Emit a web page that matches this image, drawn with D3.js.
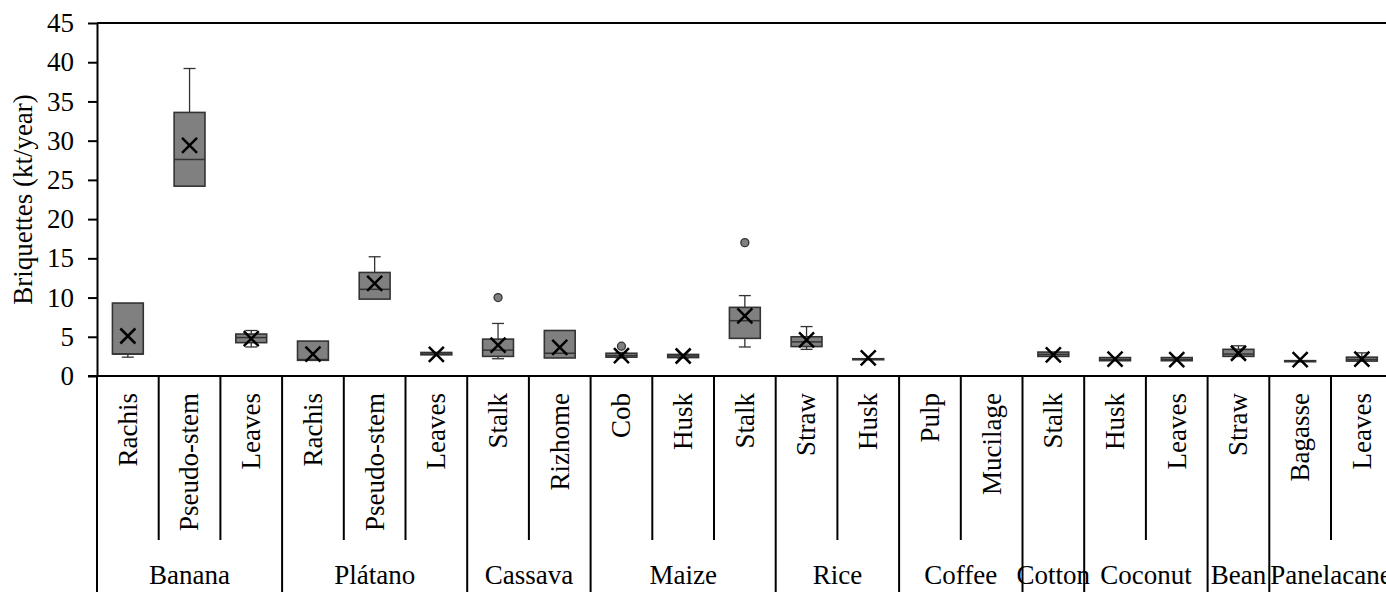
<!DOCTYPE html>
<html>
<head>
<meta charset="utf-8">
<script src="https://cdn.jsdelivr.net/npm/d3@7"></script>
<style>
  body { margin: 0; background: #fff; }
  svg text { font-family: "Liberation Serif", serif; fill: #000; }
</style>
</head>
<body>
<div id="chart"></div>
<script>
// grupos de cultivos y cuantos residuos tiene cada uno
const groups = ["Banana", "Plátano", "Cassava", "Maize", "Rice", "Coffee", "Cotton", "Coconut", "Bean", "Panelacane"];
const groupSizes = [3, 3, 2, 3, 2, 2, 1, 2, 1, 2];
const parts = ["Rachis", "Pseudo-stem", "Leaves", "Rachis", "Pseudo-stem", "Leaves", "Stalk", "Rizhome",
    "Cob", "Husk", "Stalk", "Straw", "Husk", "Pulp", "Mucilage", "Stalk", "Husk", "Leaves", "Straw", "Bagasse", "Leaves"];

// estadisticos de cada caja (kt/year), null = sin datos
const whiskerLow  = [2.4, 24.2, 3.7, 2.0, 9.8, 2.7, 2.2, 2.3, 2.3, 2.3, 3.7, 3.4, 2.1, null, null, 2.5, 1.95, 1.95, 2.5, 1.95, 1.9];
const q1          = [2.8, 24.2, 4.25, 2.0, 9.8, 2.7, 2.5, 2.3, 2.4, 2.35, 4.8, 3.75, 2.1, null, null, 2.5, 1.95, 1.95, 2.5, 1.95, 1.9];
const median      = [2.8, 27.6, 4.9, 2.1, 11.05, 2.8, 3.3, 2.9, 2.6, 2.55, 7.05, 4.35, 2.15, null, null, 2.75, 2.1, 2.1, 2.8, 1.95, 2.1];
const q3          = [9.3, 33.6, 5.35, 4.45, 13.2, 3.0, 4.7, 5.8, 2.9, 2.75, 8.75, 5.0, 2.2, null, null, 3.05, 2.35, 2.35, 3.4, 1.95, 2.4];
const whiskerHigh = [9.3, 39.2, 5.8, 4.45, 15.2, 3.0, 6.7, 5.8, 3.0, 2.75, 10.25, 6.3, 2.2, null, null, 3.05, 2.35, 2.35, 3.85, 1.95, 2.95];
const mean        = [5.1, 29.4, 4.75, 2.8, 11.8, 2.75, 3.95, 3.65, 2.6, 2.55, 7.65, 4.6, 2.3, null, null, 2.7, 2.15, 2.1, 2.9, 2.1, 2.15];
const outliers    = [[], [], [], [], [], [], [10.0], [], [3.8], [], [17.0], [], [], [], [], [], [], [], [], [], []];

const yTicks = [0, 5, 10, 15, 20, 25, 30, 35, 40, 45];

const svgWidth = 1386, svgHeight = 592;
const plotLeft = 97, plotTop = 23, plotBottom = 376;
const slotW = 61.7;
const fontSize = 27;

const svg = d3.select("#chart")
    .append("svg")
    .attr("width", svgWidth)
    .attr("height", svgHeight);

const x = d3.scaleBand()
    .domain(d3.range(parts.length))
    .range([plotLeft, plotLeft + slotW * parts.length])
    .padding(0);

const y = d3.scaleLinear()
    .domain([0, 45])
    .range([plotBottom, plotTop]);

// Eje Y
const yAxis = svg.append("g")
    .attr("transform", `translate(${plotLeft},0)`)
    .call(d3.axisLeft(y).tickValues(yTicks).tickSize(9).tickPadding(14).tickSizeOuter(0));
yAxis.select(".domain").attr("stroke", "#000").attr("stroke-width", 2);
yAxis.selectAll(".tick line").attr("stroke", "#000").attr("stroke-width", 2);
yAxis.selectAll(".tick text")
    .style("font-size", fontSize + "px")
    .style("font-family", "\"Liberation Serif\", serif");

// linea superior del area
svg.append("line")
    .attr("x1", plotLeft).attr("x2", svgWidth)
    .attr("y1", y(45)).attr("y2", y(45))
    .attr("stroke", "#000").attr("stroke-width", 2);

// linea del eje X
svg.append("line")
    .attr("x1", plotLeft - 9).attr("x2", svgWidth)
    .attr("y1", y(0)).attr("y2", y(0))
    .attr("stroke", "#000").attr("stroke-width", 2);

// Etiqueta eje Y
svg.append("text")
    .attr("transform", `translate(23,${(plotTop + plotBottom) / 2}) rotate(-90)`)
    .attr("text-anchor", "middle")
    .attr("dy", "0.35em")
    .style("font-size", fontSize + "px")
    .text("Briquettes (kt/year)");

// separadores de categorias
let groupStarts = [];
let acc = 0;
groupSizes.forEach(n => { groupStarts.push(acc); acc += n; });

const groupEdge = new Set(groupStarts.concat([parts.length]));
d3.range(parts.length + 1).forEach(i => {
    const xx = i < parts.length ? x(i) : x(parts.length - 1) + x.bandwidth();
    svg.append("line")
        .attr("x1", xx).attr("x2", xx)
        .attr("y1", y(0))
        .attr("y2", groupEdge.has(i) ? svgHeight : 540)
        .attr("stroke", "#000").attr("stroke-width", 2);
});

// nombres de residuos
svg.selectAll(".part")
    .data(parts)
    .enter().append("text")
    .attr("class", "part")
    .attr("transform", (d, i) => `translate(${x(i) + x.bandwidth() / 2},393) rotate(-90)`)
    .attr("text-anchor", "end")
    .attr("dy", "0.33em")
    .style("font-size", fontSize + "px")
    .text(d => d);

// nombres de grupos
svg.selectAll(".group")
    .data(groups)
    .enter().append("text")
    .attr("class", "group")
    .attr("x", (d, i) => {
        const a = x(groupStarts[i]);
        const b = x(groupStarts[i] + groupSizes[i] - 1) + x.bandwidth();
        return (a + b) / 2;
    })
    .attr("y", 584)
    .attr("text-anchor", "middle")
    .style("font-size", fontSize + "px")
    .text(d => d);

// Cajas
const boxW = x.bandwidth() * 0.5;
const stroke = "#333";
const fill = "#808080";

parts.forEach((p, i) => {
    if (q1[i] === null) return;
    const cx = x(i) + x.bandwidth() / 2;
    const g = svg.append("g");

    // bigotes
    [[q3[i], whiskerHigh[i]], [q1[i], whiskerLow[i]]].forEach(([from, to]) => {
        if (Math.abs(from - to) < 0.01) return;
        g.append("line")
            .attr("x1", cx).attr("x2", cx)
            .attr("y1", y(from)).attr("y2", y(to))
            .attr("stroke", stroke).attr("stroke-width", 1.3);
        g.append("line")
            .attr("x1", cx - 6).attr("x2", cx + 6)
            .attr("y1", y(to)).attr("y2", y(to))
            .attr("stroke", stroke).attr("stroke-width", 1.3);
    });

    g.append("rect")
        .attr("x", cx - boxW / 2)
        .attr("y", y(q3[i]))
        .attr("width", boxW)
        .attr("height", Math.max(y(q1[i]) - y(q3[i]), 1))
        .attr("fill", fill)
        .attr("stroke", stroke)
        .attr("stroke-width", 1.6);

    g.append("line")
        .attr("x1", cx - boxW / 2).attr("x2", cx + boxW / 2)
        .attr("y1", y(median[i])).attr("y2", y(median[i]))
        .attr("stroke", stroke).attr("stroke-width", 1.5);

    // media (X)
    const my = y(mean[i]), s = 7.5;
    g.append("path")
        .attr("d", `M${cx - s},${my - s}L${cx + s},${my + s}M${cx - s},${my + s}L${cx + s},${my - s}`)
        .attr("stroke", "#000").attr("stroke-width", 2.5).attr("fill", "none");

    // atipicos
    outliers[i].forEach(v => {
        g.append("circle")
            .attr("cx", cx).attr("cy", y(v))
            .attr("r", 4)
            .attr("fill", fill)
            .attr("stroke", stroke)
            .attr("stroke-width", 1.3);
    });
});
</script>
</body>
</html>
